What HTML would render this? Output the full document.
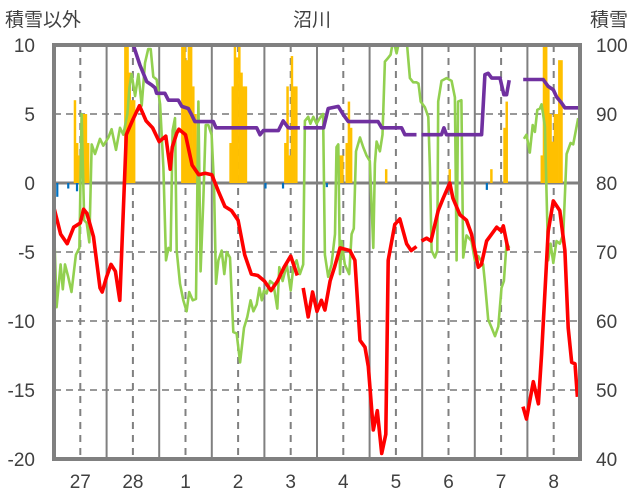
<!DOCTYPE html>
<html><head><meta charset="utf-8">
<style>
html,body{margin:0;padding:0;background:#fff;}
svg{display:block;font-family:"Liberation Sans","Noto Sans CJK JP",sans-serif;}
</style></head>
<body>
<svg id="chart" width="636" height="501" viewBox="0 0 636 501" xmlns="http://www.w3.org/2000/svg">
  <defs><clipPath id="plotclip"><rect x="54" y="45" width="526" height="414"/></clipPath></defs>
  <text x="312" y="26" font-size="19" fill="#404040" text-anchor="middle">沼川</text>
  <text x="5" y="26" font-size="19" fill="#404040">積雪以外</text>
  <text x="590" y="26" font-size="19" fill="#404040">積雪</text>
  <g id="grid"></g>
  <g id="bars" clip-path="url(#plotclip)"></g>
  <g id="lines" clip-path="url(#plotclip)"></g>
  <rect x="54" y="45" width="526" height="414" fill="none" stroke="#808080" stroke-width="4"/>
  <g id="labels"></g>
</svg>
<script>
const dayLabels = ["27","28","1","2","3","4","5","6","7","8"];
const leftTicks = [10,5,0,-5,-10,-15,-20];
const rightTicks = [100,90,80,70,60,50,40];

const snowHours = [9,10,11,13,14,15,32,33,34,35,36,58,59,60,61,62,63,64,80,81,82,83,84,85,86,87,105,106,107,108,109,110,130,131,133,134,135,151,180,199,205,206,222,223,224,225,226,227,228,229,230,231];
const snowVals  = [6.0,2.9,2.0,5.0,5.0,2.9,10.5,10.5,8.0,6.0,6.0,10.5,10.5,8.9,10.5,10.5,7.0,5.0,2.9,7.0,10.5,9.1,10.5,8.0,7.0,7.0,2.9,7.0,2.0,9.2,7.0,7.0,2.0,2.0,2.9,5.9,4.0,1.0,1.0,1.0,4.0,5.9,2.0,10.5,10.5,7.0,5.0,3.0,5.0,5.0,8.9,8.9];

const rainHours = [1,6,10,96,104,124,197];
const rainVals  = [-1.0,-0.4,-0.6,-0.4,-0.4,-0.3,-0.5];

const tempHours = [0,3,6,9,12,13.5,15,18,21,22,24,26,28,30,33,36,39,42,45,48,51,53,54,56,57,60,63,66,69,72,75,78,81,84,87,90,93,96,99,102,105,108,111,112.5,
  113.7,116,118,120,122,123.6,126,128,130.5,135,137.3,139.6,141.9,143.4,145.7,147.5,149.5,151.4,152.5,155.5,157.8,160.9,163,165.4,166.5,
  167.7,170,172,175.3,177.6,180.6,182,185.2,188.2,190.5,193.6,195,197.4,199.7,202,204.2,205,207.3,210,
  214,215.6,218.7,221,222.5,225.5,227.8,230.8,233.1,234.6,236.2,237.7,238.8];
const tempVals = [-1.8,-3.7,-4.4,-3.2,-2.9,-1.9,-2.2,-3.9,-7.6,-7.9,-6.8,-5.9,-6.4,-8.5,3.5,4.6,5.6,4.5,4.0,3.0,3.4,1.0,2.6,3.6,3.9,3.5,1.3,0.6,0.7,0.6,-0.6,-1.7,-2.0,-2.7,-5.2,-6.6,-6.7,-7.1,-7.8,-7.1,-6.1,-5.3,-6.7,null,
  -7.6,-9.7,-7.9,-9.3,-8.5,-9.2,-7.1,-6.1,-4.7,-4.9,-5.6,-11.4,-11.9,-13.3,-17.9,-16.5,-19.6,-18.2,-5.6,-3.0,-2.6,-4.4,-4.9,-4.6,null,
  -4.2,-4.0,-4.2,-2.0,-1.1,0,-1.1,-2.3,-2.7,-3.7,-6.1,-5.9,-4.2,-3.7,-3.2,-3.5,-3.1,-4.9,null,
  -16.2,-17.1,-14.4,-16.0,-12.4,-3.5,-1.3,-2.0,-4.9,-10.5,-13.0,-13.1,-15.5];

const otherHours = [0,1.2,3,4,5,6.5,8,10,11.6,12.6,13.8,14.9,16.1,17.2,18.7,21,22.5,24.8,26.3,28.3,30.1,31.6,33.5,34.4,35.4,37,38.5,40,41.5,43,44.1,45.3,46.8,48.4,49.9,51.1,52.2,53.2,54.1,55.2,56,57.5,59,60.5,61.7,63.3,64.8,65.9,66.9,68.1,69.2,70.4,71.9,73,73.9,75,76.5,77.7,78.8,80.3,81.8,83.3,84.9,86.7,88.2,89.7,91,92.5,93.7,94.8,95.8,97,98.6,100.1,101.9,102.8,104.3,106.2,108,109.2,110.7,112.2,113.7,114.5,116,117,118.3,119.8,121.3,122.8,123.6,125.1,126.6,128.2,128.9,129.7,130.5,131.2,132.7,134.7,135.8,136.8,137.8,139.6,141.1,142.6,144.1,145.7,146.4,147.2,148.7,149.9,151,152.1,153.6,154.8,156.3,157.8,159.4,160.9,162.4,163.9,165.4,166.3,
  167.3,169.2,170.8,171.5,172.3,173.8,174.9,175.3,176.8,179.1,181.4,182.9,183.7,184.4,185.9,186.7,188.2,190.5,192,193.6,195.8,196.6,198.1,199.7,201.2,202.7,204.2,205.3,206.5,207.7,210,
  214.4,215.6,217.1,218.4,219.4,220.5,221.7,222.5,224,225.5,226.6,227.8,229.3,230.8,232.4,233.9,235.7,236.9,239.2];
const otherVals = [-3.0,-9.0,-5.9,-7.7,-5.9,-6.8,-7.9,-5.2,-4.7,5.0,-2.7,-2.9,-4.3,2.8,2.1,3.2,2.7,3.3,3.9,2.4,4.0,3.5,5.0,6.9,7.9,6.3,7.9,5.6,8.7,9.7,9.7,7.7,7.5,5.7,1.1,-5.6,-4.7,-4.9,3.8,4.7,-4.9,-7.3,-8.5,-9.3,-7.9,-8.5,-8.4,5.9,-6.4,-1.3,4.2,4.2,3.5,-0.1,-7.3,-5.6,-4.9,-6.6,-5.0,-5.4,-10.8,-10.9,-13.0,-10.5,-9.7,-8.5,-9.3,-8.8,-7.6,-8.5,-7.8,-8.0,-7.1,-7.3,-9.1,-6.1,-7.1,-5.9,-7.8,-6.1,-5.6,-6.6,-5.9,4.5,4.8,4.3,4.8,4.3,4.7,5.0,-5.2,-6.8,-5.9,-3.7,2.6,2.8,-6.6,-4.2,-5.9,-6.6,-3.7,-3.3,2.3,3.3,2.6,2.0,1.6,-4.7,1.4,3.0,2.3,3.5,8.8,9.0,9.3,10.4,9.4,10.5,10.8,10.4,7.6,7.3,7.3,7.2,
  5.9,5.5,4.8,1.1,-4.9,-5.4,-4.9,5.9,7.4,7.6,7.4,6.2,-5.6,5.9,6.0,-5.4,-3.8,-4.2,-5.6,-5.3,-5.9,-7.2,-9.9,-10.5,-11.1,-10.4,-7.6,-7.1,-4.3,-4.7,null,
  3.2,3.5,2.2,4.2,3.7,5.3,5.4,5.7,4.1,-5.6,-4.4,-5.8,-4.2,-4.4,-3.7,2.1,2.9,2.8,4.7];

const depthHours = [0,2,2.5,36.2,39.2,42.3,44.6,46.1,46.8,50.6,52.2,56.7,58.3,61.3,62.8,64.3,72.7,73.9,92.5,94,95.5,102.4,104.6,106.9,112.2,112.8,
  113.8,123,125.1,129.7,132,134.3,147.9,149.5,158.6,160.1,165.4,166.5,
  167.7,176.8,177.9,179.1,195.1,196.6,198.1,199.7,203.5,205.3,206.5,207.7,210,
  214.1,223.2,225.5,227.8,229.3,231.6,233.1,239.2];
const depthVals = [100,100,null,100,97.1,94.7,94.2,93.8,93.0,93.0,92.0,92.0,91.1,90.8,89.9,88.9,88.9,88.0,88.0,87.0,87.6,87.6,89.0,88.0,88.0,null,
  88.0,88.0,90.8,91.1,89.9,88.9,88.9,88.0,88.0,87.0,87.0,null,
  87.0,87.0,88.0,87.0,87.0,95.7,95.9,95.2,95.2,92.8,92.8,94.9,null,
  95.0,95.0,94.0,93.5,92.5,91.6,90.9,90.9];

const X0 = 54, PW = 526, Y0 = 45, PH = 414;
function xScale(h){ return X0 + h * PW / 240; }
function yLeft(v){ return Y0 + (10 - v) * PH / 30; }
function yRight(v){ return Y0 + (100 - v) * PH / 60; }

const NS = "http://www.w3.org/2000/svg";
function mk(tag, attrs, parent){
  const e = document.createElementNS(NS, tag);
  for (const k in attrs) e.setAttribute(k, attrs[k]);
  parent.appendChild(e);
  return e;
}
const grid = document.getElementById("grid");
const bars = document.getElementById("bars");
const lines = document.getElementById("lines");
const labels = document.getElementById("labels");

// horizontal gridlines
leftTicks.forEach(function(t){
  if (t === 10 || t === -20) return;
  const y = yLeft(t);
  const ln = mk("line", {x1:X0, x2:X0+PW, y1:y, y2:y, stroke: t===0 ? "#808080" : "#999999", "stroke-width": t===0 ? 3 : 2, "stroke-dasharray": t===0 ? "none" : "7,5"}, grid);
  
  
});
// vertical gridlines
for (let d = 0; d < dayLabels.length; d++){
  if (d > 0){
    const xs = xScale(d*24);
    const l1 = mk("line", {x1:xs, x2:xs, y1:Y0, y2:Y0+PH, stroke:"#808080", "stroke-width":2}, grid);
    
    
  }
  const xm = xScale(d*24+12);
  const l2 = mk("line", {x1:xm, x2:xm, y1:Y0, y2:Y0+PH, stroke:"#808080", "stroke-width":2, "stroke-dasharray":"7,6"}, grid);
  
  
  const tx = mk("text", {x:xm, y:488, "font-size":19, fill:"#404040", "text-anchor":"middle"}, labels);
  tx.textContent = dayLabels[d];
  
  
}
leftTicks.forEach(function(t){
  const tx = mk("text", {x:35, y:yLeft(t)+7, "font-size":19, fill:"#404040", "text-anchor":"end"}, labels);
  tx.textContent = String(t);
  
  
});
rightTicks.forEach(function(t){
  const tx = mk("text", {x:596, y:yRight(t)+7, "font-size":19, fill:"#404040", "text-anchor":"start"}, labels);
  tx.textContent = String(t);
  
  
});

// bars
snowHours.forEach(function(h, i){
  const x = xScale(h), w = xScale(h+1) - x;
  const y = yLeft(snowVals[i]);
  const r = mk("rect", {x:x, y:y, width:w+0.3, height:yLeft(0)-y, fill:"#ffc000"}, bars);
  
  
});
rainHours.forEach(function(h, i){
  const x = xScale(h), w = xScale(h+1) - x;
  const y0 = yLeft(0);
  const r = mk("rect", {x:x, y:y0, width:w, height:yLeft(rainVals[i])-y0, fill:"#0070c0"}, bars);
  
  
});

function pathFrom(hours, vals, yf){
  let d = "", pen = false;
  for (let i = 0; i < hours.length; i++){
    if (vals[i] === null){ pen = false; continue; }
    d += (pen ? "L" : "M") + xScale(hours[i]).toFixed(1) + "," + yf(vals[i]).toFixed(1);
    pen = true;
  }
  return d;
}
const g1 = mk("path", {d:pathFrom(otherHours, otherVals, yLeft), fill:"none", stroke:"#92d050", "stroke-width":2.6, "stroke-linejoin":"round"}, lines);


const g2 = mk("path", {d:pathFrom(tempHours, tempVals, yLeft), fill:"none", stroke:"#ff0000", "stroke-width":3.6, "stroke-linejoin":"round"}, lines);


const g3 = mk("path", {d:pathFrom(depthHours, depthVals, yRight), fill:"none", stroke:"#7030a0", "stroke-width":3.6, "stroke-linejoin":"round"}, lines);


</script>
</body></html>
